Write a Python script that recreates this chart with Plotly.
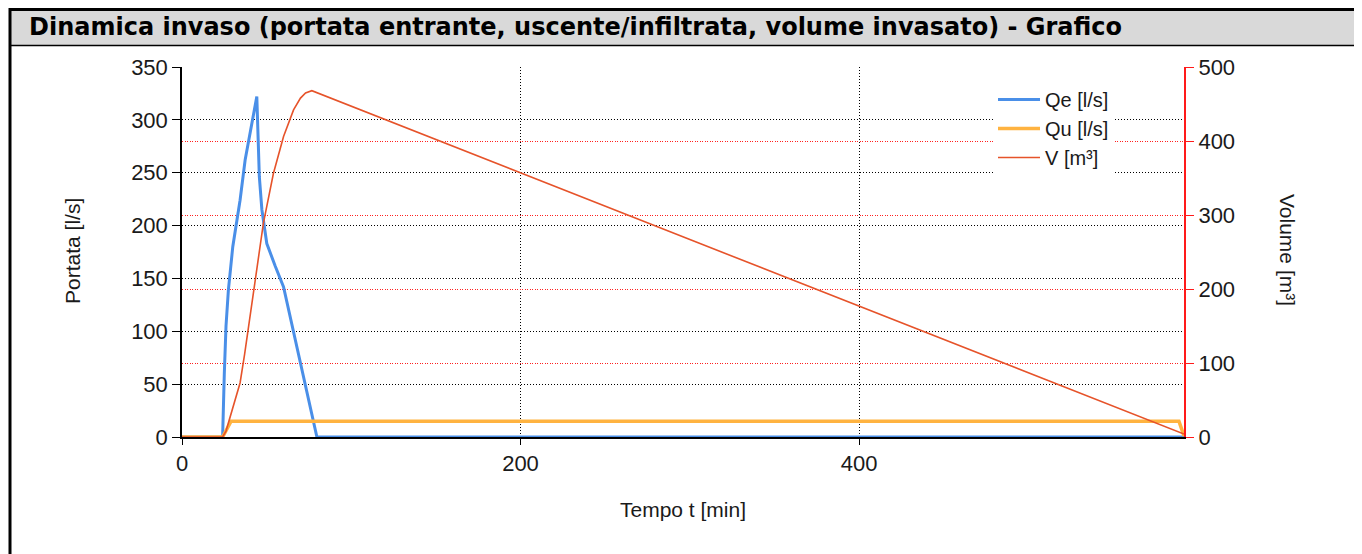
import plotly.graph_objects as go

# ---- data ----
t_qe = [0, 24, 25, 26, 27.4, 30, 34.3, 37.3, 44.2, 45.7, 47.2, 50.1, 55, 60, 79.7, 592]
qe = [0, 0, 60, 105, 139, 180, 224, 262, 322, 246, 215, 183, 162, 142, 0, 0]

t_qu = [0, 24, 29, 589, 592]
qu = [0, 0, 15, 15, 1]

t_v = [0, 24, 26, 28.4, 31, 34.3, 37, 40.2, 44, 48.1, 54, 60, 65.9, 70, 73, 76.7, 592]
v = [0, 0, 8, 27, 48, 73, 112, 162, 228, 289, 356, 406, 442, 458, 465, 468, 4]

x_ticks = [0, 200, 400]
y1_ticks = [0, 50, 100, 150, 200, 250, 300, 350]
y2_ticks = [0, 100, 200, 300, 400, 500]

TITLE = "Dinamica invaso (portata entrante, uscente/infiltrata, volume invasato) - Grafico"

# page has an 8px body margin: work in screen coordinates and shift
OFF = 8
W, H = 1362 - OFF, 554 - OFF
L, R, T, B = 182, 1184, 67, 437   # plot area in screen pixels


def px(x):
    return (x - L) / (R - L)


def py(y):
    return (B - y) / (B - T)


FONT = "Liberation Sans, Arial"
TICKFONT = dict(family=FONT, size=22, color="#1a1a1a")
LABFONT = dict(family=FONT, size=21, color="#1a1a1a")
LEGFONT = dict(family=FONT, size=20, color="#1a1a1a")

fig = go.Figure()
fig.add_trace(go.Scatter(x=t_qe, y=qe, mode="lines", name="Qe [l/s]",
                         line=dict(color="#4a8fe8", width=3)))
fig.add_trace(go.Scatter(x=t_qu, y=qu, mode="lines", name="Qu [l/s]",
                         line=dict(color="#ffb340", width=3.5)))
fig.add_trace(go.Scatter(x=t_v, y=v, mode="lines", name="V [m³]", yaxis="y2",
                         line=dict(color="#e6532a", width=1.6)))

fig.update_layout(
    width=W, height=H,
    margin=dict(l=L - OFF, r=(W + OFF) - R, t=T - OFF, b=(H + OFF) - B, autoexpand=False),
    paper_bgcolor="white", plot_bgcolor="white",
    showlegend=True,
    legend=dict(x=px(993), y=py(80), xanchor="left", yanchor="top",
                bgcolor="white", font=LEGFONT, borderwidth=0,
                itemwidth=42, tracegroupgap=0),
    xaxis=dict(range=[0, 592], tickvals=x_ticks, showgrid=True,
               gridcolor="black", griddash="1px,2px", gridwidth=1,
               showline=True, linecolor="black", linewidth=1.5,
               ticks="outside", ticklen=6, tickcolor="black",
               tickfont=TICKFONT, zeroline=False),
    yaxis=dict(range=[0, 350], tickvals=y1_ticks, showgrid=True,
               gridcolor="black", griddash="1px,2px", gridwidth=1,
               showline=True, linecolor="black", linewidth=1.5,
               ticks="outside", ticklen=8, tickcolor="black",
               tickfont=TICKFONT, zeroline=False),
    yaxis2=dict(range=[0, 500], tickvals=y2_ticks, overlaying="y", side="right",
                showgrid=True, gridcolor="#ff2020", griddash="1px,1.5px", gridwidth=1,
                showline=True, linecolor="#ff1a1a", linewidth=2,
                ticks="outside", ticklen=8, tickcolor="#ff1a1a",
                tickfont=TICKFONT, zeroline=False),
)

# white legend panel hiding the gridlines
fig.add_shape(type="rect", xref="paper", yref="paper",
              x0=px(982), x1=px(1151), y0=py(182), y1=py(76),
              fillcolor="white", line=dict(width=0), layer="between")

# axis titles
fig.add_annotation(text="Portata [l/s]", xref="paper", yref="paper",
                   x=px(72), y=py(251), showarrow=False, textangle=-90,
                   font=LABFONT, xanchor="center", yanchor="middle")
fig.add_annotation(text="Volume [m³]", xref="paper", yref="paper",
                   x=px(1288), y=py(250), showarrow=False, textangle=90,
                   font=LABFONT, xanchor="center", yanchor="middle")
fig.add_annotation(text="Tempo t [min]", xref="paper", yref="paper",
                   x=px(683), y=py(509), showarrow=False,
                   font=LABFONT, xanchor="center", yanchor="middle")

# title bar + frame (screen coordinates)
fig.add_shape(type="rect", xref="paper", yref="paper",
              x0=px(9), x1=px(1357), y0=py(45), y1=py(OFF),
              fillcolor="#d9d9d9", line=dict(width=0), layer="below")
fig.add_shape(type="line", xref="paper", yref="paper",
              x0=px(9), x1=px(1357), y0=py(45.5), y1=py(45.5),
              line=dict(color="black", width=1.5))
fig.add_shape(type="rect", xref="paper", yref="paper",
              x0=px(10), x1=px(1356), y0=py(700), y1=py(OFF + 1.5),
              line=dict(color="black", width=3), fillcolor="rgba(0,0,0,0)")
fig.add_annotation(text="<b>" + TITLE + "</b>", xref="paper", yref="paper",
                   x=px(27), y=py(27), showarrow=False, xanchor="left", yanchor="middle",
                   font=dict(family="DejaVu Sans", size=24, color="black"))

fig.write_html("out.html")
